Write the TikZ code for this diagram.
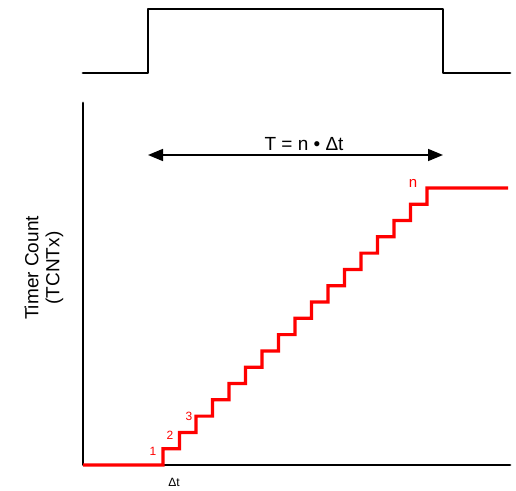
\documentclass[tikz,border=0pt]{standalone}
\usepackage{fontspec}
\setmainfont{Liberation Sans}
\usepackage{tikz}
\usetikzlibrary{arrows.meta}
\definecolor{CountRed}{HTML}{FF0000}
\definecolor{AxisBlack}{HTML}{000000}

\begin{document}
\begin{tikzpicture}[x=1pt,y=-1pt,
    axisline/.style={AxisBlack,line width=2.8pt,line cap=round,line join=round},
    stairline/.style={CountRed,line width=3.2pt,line join=miter},
    steplabel/.style={text=CountRed,font=\fontsize{12}{13}\selectfont,inner sep=0pt}]
      \useasboundingbox (0,0) rectangle (516,490);
      % gate pulse
      \draw[axisline] (83,73) -- (148,73) -- (148,9) -- (443,9) -- (443,73) -- (510,73);
      % axes
      \coordinate (ytop) at (83,103);
      \coordinate (origin) at (83,465);
      \coordinate (xend) at (510,465);
      \draw[axisline] (ytop) -- (origin) -- (xend);
      % counter staircase
      \draw[stairline] (origin) -- (163,465) -- ++(0,-16.3)
        \foreach \i in {1,...,16} { -- ++(16.5,0) -- ++(0,-16.3) } -- (508,188);
      \node[steplabel] (one) at (153,451) {1};
      \node[steplabel] (two) at (170,435) {2};
      \node[steplabel] (three) at (189,416) {3};
      \node[steplabel,font=\fontsize{15}{16}\selectfont] (last) at (413,183) {n};
      \node[inner sep=0pt,font=\fontsize{12}{13}\selectfont] (dt) at (174,482) {Δt};
      % period arrow
      \coordinate (tstart) at (148,155);
      \coordinate (tend) at (443,155);
      \draw[AxisBlack,line width=1.6pt,{Triangle[length=15pt,width=12pt]}-{Triangle[length=15pt,width=12pt]}] (tstart) -- (tend);
      \node[inner sep=0pt,font=\fontsize{19}{20}\selectfont] (period) at (304,144) {T = n • Δt};
      % y label
      \node[rotate=90,align=center,font=\fontsize{19}{21}\selectfont] (ylabel) at (44,268) {Timer Count\\(TCNTx)};
    \end{tikzpicture}
\end{document}
